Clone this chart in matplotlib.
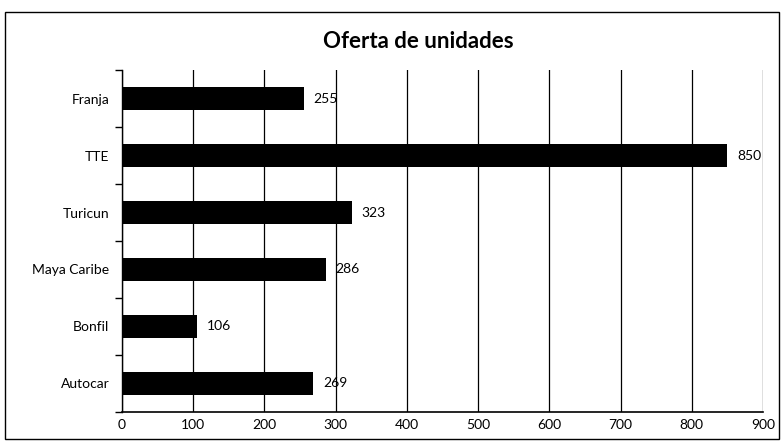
import matplotlib.pyplot as plt
import numpy as np
from matplotlib.patches import Rectangle

categories = ["Franja", "TTE", "Turicun", "Maya Caribe", "Bonfil", "Autocar"]
values = [255, 850, 323, 286, 106, 269]
xticks = [0, 100, 200, 300, 400, 500, 600, 700, 800, 900]

plt.rcParams['font.family'] = ['Lato', 'DejaVu Sans']

fig = plt.figure(figsize=(7.81, 4.41), dpi=100)
ax = fig.add_axes([0.156, 0.066, 0.821, 0.775])

ind = np.arange(len(categories))
bars = ax.barh(ind, values, height=0.4, color='black', zorder=3)
ax.set_ylim(len(categories) - 0.5, -0.5)
ax.set_xlim(0, 900)

# value labels
for rect, v in zip(bars, values):
    ax.annotate(str(v), (rect.get_width(), rect.get_y() + rect.get_height() / 2),
                xytext=(7, 0), textcoords='offset points', va='center', ha='left',
                fontsize=10)

ax.set_xticks(xticks)
ax.set_xticklabels([str(t) for t in xticks], fontsize=10)
ax.tick_params(axis='x', length=0, pad=5)
ax.xaxis.grid(True, color='black', linewidth=0.9, zorder=0)

# category labels between boundary ticks
ax.set_yticks(np.arange(len(categories) + 1) - 0.5)
ax.set_yticklabels([])
ax.set_yticks(ind, minor=True)
ax.set_yticklabels(categories, minor=True, fontsize=10)
ax.tick_params(axis='y', which='major', length=5, direction='out', width=1)
ax.tick_params(axis='y', which='minor', length=0, pad=9)

ax.spines['top'].set_visible(False)
ax.spines['right'].set_visible(False)
ax.spines['left'].set_linewidth(1)
ax.spines['bottom'].set_linewidth(1.2)

fig.text(0.535, 0.905, "Oferta de unidades", ha='center', va='center',
         fontsize=16, fontweight='bold')

# outer chart border
fig.patches.append(Rectangle((0.007, 0.005), 0.99, 0.967, transform=fig.transFigure,
                             fill=False, edgecolor='black', linewidth=1))

fig.savefig('out.png', dpi=100)
